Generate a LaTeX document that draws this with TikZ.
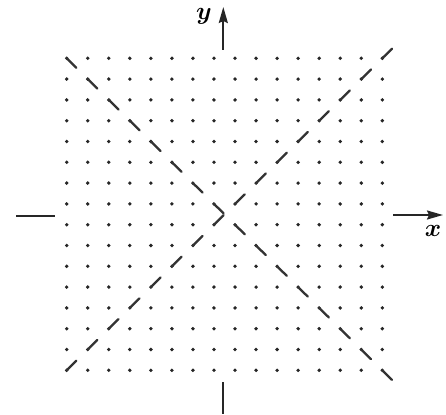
\documentclass[tikz,border=0pt]{standalone}
\usepackage{amsmath,amssymb,bm}
\usetikzlibrary{arrows.meta}
\begin{document}
\begin{tikzpicture}[x=1pt,y=-1pt,
  axisline/.style={line width=2pt,black!85},
  axisarrow/.style={axisline,-{Stealth[length=16pt,width=9pt,inset=2pt]}},
  gdot/.style={fill=black!85},
  dashseg/.style={line width=2.3pt,black!80,line cap=round},
  lbl/.style={font=\fontsize{24}{28}\selectfont}]
\useasboundingbox (0,0) rectangle (446,414);
\pgfmathsetmacro{\xo}{66.7}
\pgfmathsetmacro{\yo}{58.3}
\pgfmathsetmacro{\dx}{21.04}
\pgfmathsetmacro{\dy}{20.8}
% dot grid
\foreach \i in {0,...,15}{
  \foreach \j in {0,...,15}{
    \fill[gdot] ({\xo+\i*\dx},{\yo+\j*\dy}) circle (1.9);
  }
}
% dashes on the two diagonals, each starting at a diagonal dot
\foreach \k in {0,...,15}{
  \draw[dashseg] ({\xo+\k*\dx},{\yo+\k*\dy}) -- ++({0.46*\dx},{0.46*\dy});
  \draw[dashseg] ({\xo+\k*\dx},{\yo+(15-\k)*\dy}) -- ++({0.46*\dx},{-0.46*\dy});
}
% axes
\coordinate (xl1) at (16,215.5);
\coordinate (xl2) at (55,215.5);
\coordinate (xr1) at (393,215);
\coordinate (xr2) at (443,215);
\coordinate (yt1) at (223.3,50);
\coordinate (yt2) at (223.3,7);
\coordinate (yb1) at (223.3,382);
\coordinate (yb2) at (223.3,414);
\draw[axisline] (xl1) -- (xl2);
\draw[axisarrow] (xr1) -- (xr2);
\draw[axisarrow] (yt1) -- (yt2);
\draw[axisline] (yb1) -- (yb2);
\node[lbl] (ylab) at (204,16) {$\bm{y}$};
\node[lbl] (xlab) at (433,231) {$\bm{x}$};
\end{tikzpicture}
\end{document}
